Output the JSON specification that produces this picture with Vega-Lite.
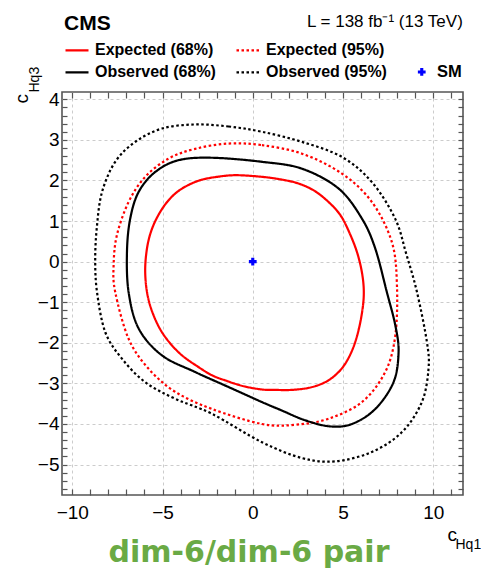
{
  "$schema": "https://vega.github.io/schema/vega-lite/v6.json",
  "width": 401,
  "height": 403,
  "autosize": {"type": "none"},
  "padding": {"left": 62, "top": 92, "right": 18, "bottom": 76},
  "config": {
    "view": {"stroke": "#555555", "strokeWidth": 1.6},
    "font": "Liberation Sans"
  },
  "title": {
    "text": "dim-6/dim-6 pair",
    "orient": "bottom",
    "anchor": "middle",
    "frame": "group",
    "offset": -13,
    "dx": -13.5,
    "font": "DejaVu Sans",
    "fontSize": 30,
    "fontWeight": "bold",
    "color": "#6aaa45"
  },
  "datasets": {
    "contours": [
      {"series": "Expected (68%)", "i": 1, "x": -0.85, "y": 2.13},
      {"series": "Expected (68%)", "i": 2, "x": 0.51, "y": 2.09},
      {"series": "Expected (68%)", "i": 3, "x": 1.5, "y": 2.03},
      {"series": "Expected (68%)", "i": 4, "x": 2.5, "y": 1.93},
      {"series": "Expected (68%)", "i": 5, "x": 3.4, "y": 1.75},
      {"series": "Expected (68%)", "i": 6, "x": 4.2, "y": 1.47},
      {"series": "Expected (68%)", "i": 7, "x": 4.85, "y": 1.15},
      {"series": "Expected (68%)", "i": 8, "x": 5.35, "y": 0.72},
      {"series": "Expected (68%)", "i": 9, "x": 5.8, "y": 0.2},
      {"series": "Expected (68%)", "i": 10, "x": 6.08, "y": -0.35},
      {"series": "Expected (68%)", "i": 11, "x": 6.15, "y": -0.85},
      {"series": "Expected (68%)", "i": 12, "x": 6.0, "y": -1.4},
      {"series": "Expected (68%)", "i": 13, "x": 5.7, "y": -1.95},
      {"series": "Expected (68%)", "i": 14, "x": 5.3, "y": -2.38},
      {"series": "Expected (68%)", "i": 15, "x": 4.8, "y": -2.7},
      {"series": "Expected (68%)", "i": 16, "x": 4.1, "y": -2.95},
      {"series": "Expected (68%)", "i": 17, "x": 3.2, "y": -3.1},
      {"series": "Expected (68%)", "i": 18, "x": 2.17, "y": -3.16},
      {"series": "Expected (68%)", "i": 19, "x": 1.2, "y": -3.16},
      {"series": "Expected (68%)", "i": 20, "x": 0.51, "y": -3.15},
      {"series": "Expected (68%)", "i": 21, "x": -0.5, "y": -3.07},
      {"series": "Expected (68%)", "i": 22, "x": -1.5, "y": -2.93},
      {"series": "Expected (68%)", "i": 23, "x": -2.26, "y": -2.8},
      {"series": "Expected (68%)", "i": 24, "x": -3.1, "y": -2.57},
      {"series": "Expected (68%)", "i": 25, "x": -3.92, "y": -2.31},
      {"series": "Expected (68%)", "i": 26, "x": -4.6, "y": -2.0},
      {"series": "Expected (68%)", "i": 27, "x": -5.15, "y": -1.65},
      {"series": "Expected (68%)", "i": 28, "x": -5.6, "y": -1.2},
      {"series": "Expected (68%)", "i": 29, "x": -5.86, "y": -0.75},
      {"series": "Expected (68%)", "i": 30, "x": -5.96, "y": -0.26},
      {"series": "Expected (68%)", "i": 31, "x": -5.9, "y": 0.2},
      {"series": "Expected (68%)", "i": 32, "x": -5.72, "y": 0.62},
      {"series": "Expected (68%)", "i": 33, "x": -5.4, "y": 1.0},
      {"series": "Expected (68%)", "i": 34, "x": -4.9, "y": 1.38},
      {"series": "Expected (68%)", "i": 35, "x": -4.29, "y": 1.68},
      {"series": "Expected (68%)", "i": 36, "x": -3.6, "y": 1.88},
      {"series": "Expected (68%)", "i": 37, "x": -2.81, "y": 2.02},
      {"series": "Expected (68%)", "i": 38, "x": -1.8, "y": 2.1},

      {"series": "Expected (95%)", "i": 1, "x": -1.34, "y": 2.91},
      {"series": "Expected (95%)", "i": 2, "x": 0.51, "y": 2.87},
      {"series": "Expected (95%)", "i": 3, "x": 2.73, "y": 2.66},
      {"series": "Expected (95%)", "i": 4, "x": 4.94, "y": 2.17},
      {"series": "Expected (95%)", "i": 5, "x": 6.6, "y": 1.47},
      {"series": "Expected (95%)", "i": 6, "x": 7.71, "y": 0.48},
      {"series": "Expected (95%)", "i": 7, "x": 7.99, "y": -0.58},
      {"series": "Expected (95%)", "i": 8, "x": 7.9, "y": -1.82},
      {"series": "Expected (95%)", "i": 9, "x": 7.34, "y": -2.72},
      {"series": "Expected (95%)", "i": 10, "x": 6.05, "y": -3.46},
      {"series": "Expected (95%)", "i": 11, "x": 4.2, "y": -3.87},
      {"series": "Expected (95%)", "i": 12, "x": 2.35, "y": -4.02},
      {"series": "Expected (95%)", "i": 13, "x": 0.51, "y": -4.0},
      {"series": "Expected (95%)", "i": 14, "x": -2.26, "y": -3.63},
      {"series": "Expected (95%)", "i": 15, "x": -4.29, "y": -3.21},
      {"series": "Expected (95%)", "i": 16, "x": -5.77, "y": -2.64},
      {"series": "Expected (95%)", "i": 17, "x": -6.88, "y": -1.9},
      {"series": "Expected (95%)", "i": 18, "x": -7.62, "y": -0.75},
      {"series": "Expected (95%)", "i": 19, "x": -7.71, "y": -0.09},
      {"series": "Expected (95%)", "i": 20, "x": -7.53, "y": 0.65},
      {"series": "Expected (95%)", "i": 21, "x": -6.88, "y": 1.47},
      {"series": "Expected (95%)", "i": 22, "x": -5.96, "y": 2.09},
      {"series": "Expected (95%)", "i": 23, "x": -4.66, "y": 2.54},
      {"series": "Expected (95%)", "i": 24, "x": -3.19, "y": 2.78},

      {"series": "Observed (68%)", "i": 1, "x": -2.26, "y": 2.56},
      {"series": "Observed (68%)", "i": 2, "x": 0.51, "y": 2.46},
      {"series": "Observed (68%)", "i": 3, "x": 2.73, "y": 2.29},
      {"series": "Observed (68%)", "i": 4, "x": 4.76, "y": 1.8},
      {"series": "Observed (68%)", "i": 5, "x": 6.05, "y": 1.06},
      {"series": "Observed (68%)", "i": 6, "x": 6.79, "y": 0.32},
      {"series": "Observed (68%)", "i": 7, "x": 7.43, "y": -0.75},
      {"series": "Observed (68%)", "i": 8, "x": 7.9, "y": -1.57},
      {"series": "Observed (68%)", "i": 9, "x": 8.08, "y": -2.23},
      {"series": "Observed (68%)", "i": 10, "x": 7.8, "y": -2.97},
      {"series": "Observed (68%)", "i": 11, "x": 6.79, "y": -3.63},
      {"series": "Observed (68%)", "i": 12, "x": 5.5, "y": -4.0},
      {"series": "Observed (68%)", "i": 13, "x": 4.29, "y": -4.06},
      {"series": "Observed (68%)", "i": 14, "x": 2.91, "y": -3.91},
      {"series": "Observed (68%)", "i": 15, "x": 1.62, "y": -3.67},
      {"series": "Observed (68%)", "i": 16, "x": 0.51, "y": -3.46},
      {"series": "Observed (68%)", "i": 17, "x": -1.34, "y": -3.09},
      {"series": "Observed (68%)", "i": 18, "x": -3.19, "y": -2.72},
      {"series": "Observed (68%)", "i": 19, "x": -5.03, "y": -2.31},
      {"series": "Observed (68%)", "i": 20, "x": -6.32, "y": -1.65},
      {"series": "Observed (68%)", "i": 21, "x": -6.88, "y": -0.75},
      {"series": "Observed (68%)", "i": 22, "x": -6.97, "y": 0.24},
      {"series": "Observed (68%)", "i": 23, "x": -6.79, "y": 1.06},
      {"series": "Observed (68%)", "i": 24, "x": -6.32, "y": 1.72},
      {"series": "Observed (68%)", "i": 25, "x": -5.4, "y": 2.21},
      {"series": "Observed (68%)", "i": 26, "x": -4.11, "y": 2.5},

      {"series": "Observed (95%)", "i": 1, "x": -3.19, "y": 3.38},
      {"series": "Observed (95%)", "i": 2, "x": -1.34, "y": 3.33},
      {"series": "Observed (95%)", "i": 3, "x": 0.51, "y": 3.2},
      {"series": "Observed (95%)", "i": 4, "x": 2.73, "y": 2.95},
      {"series": "Observed (95%)", "i": 5, "x": 4.94, "y": 2.58},
      {"series": "Observed (95%)", "i": 6, "x": 6.6, "y": 1.96},
      {"series": "Observed (95%)", "i": 7, "x": 7.89, "y": 1.06},
      {"series": "Observed (95%)", "i": 8, "x": 8.5, "y": 0.2},
      {"series": "Observed (95%)", "i": 9, "x": 9.1, "y": -0.75},
      {"series": "Observed (95%)", "i": 10, "x": 9.65, "y": -1.98},
      {"series": "Observed (95%)", "i": 11, "x": 9.74, "y": -2.64},
      {"series": "Observed (95%)", "i": 12, "x": 9.37, "y": -3.46},
      {"series": "Observed (95%)", "i": 13, "x": 8.27, "y": -4.2},
      {"series": "Observed (95%)", "i": 14, "x": 6.6, "y": -4.69},
      {"series": "Observed (95%)", "i": 15, "x": 4.57, "y": -4.92},
      {"series": "Observed (95%)", "i": 16, "x": 2.73, "y": -4.84},
      {"series": "Observed (95%)", "i": 17, "x": 0.51, "y": -4.45},
      {"series": "Observed (95%)", "i": 18, "x": -2.26, "y": -3.75},
      {"series": "Observed (95%)", "i": 19, "x": -4.29, "y": -3.38},
      {"series": "Observed (95%)", "i": 20, "x": -5.96, "y": -2.97},
      {"series": "Observed (95%)", "i": 21, "x": -7.25, "y": -2.39},
      {"series": "Observed (95%)", "i": 22, "x": -8.17, "y": -1.74},
      {"series": "Observed (95%)", "i": 23, "x": -8.63, "y": -0.75},
      {"series": "Observed (95%)", "i": 24, "x": -8.73, "y": 0.07},
      {"series": "Observed (95%)", "i": 25, "x": -8.63, "y": 0.89},
      {"series": "Observed (95%)", "i": 26, "x": -8.35, "y": 1.72},
      {"series": "Observed (95%)", "i": 27, "x": -7.62, "y": 2.46},
      {"series": "Observed (95%)", "i": 28, "x": -6.51, "y": 2.95},
      {"series": "Observed (95%)", "i": 29, "x": -5.03, "y": 3.28}
    ],
    "sm": [
      {"label": "SM", "x": 0, "y": 0}
    ]
  },
  "resolve": {"axis": {"x": "independent", "y": "independent"}},
  "layer": [
    {
      "data": {"name": "contours"},
      "mark": {"type": "line", "interpolate": "cardinal-closed", "strokeWidth": 2.2},
      "encoding": {
        "x": {
          "field": "x", "type": "quantitative",
          "scale": {"domain": [-10.57, 11.65], "nice": false, "zero": false},
          "axis": {
            "orient": "bottom",
            "values": [-10,-9,-8,-7,-6,-5,-4,-3,-2,-1,0,1,2,3,4,5,6,7,8,9,10,11],
            "format": ".0f",
            "labelExpr": "datum.value % 5 === 0 ? datum.label : ''",
            "labelFont": "Liberation Sans", "labelFontSize": 19, "labelColor": "#000000",
            "labelPadding": 14, "labelOverlap": false, "labelFlush": false, "labelBound": false,
            "ticks": true, "tickSize": -6, "tickColor": "#555555", "tickWidth": 1.2,
            "grid": true, "gridColor": "#cccccc", "gridDash": [3, 3], "gridWidth": 1,
            "gridOpacity": {"condition": {"test": "datum.value % 5 === 0", "value": 1}, "value": 0},
            "domain": false,
            "title": "c", "titleFont": "Liberation Sans", "titleFontSize": 19, "titleFontWeight": "normal",
            "titleColor": "#000000", "titleX": 385, "titleY": 45, "titleAlign": "left", "titleBaseline": "alphabetic",
            "encode": {
              "ticks": {"y2": {"condition": {"test": "datum.value % 5 === 0", "value": -12}, "value": -6}}
            }
          }
        },
        "y": {
          "field": "y", "type": "quantitative",
          "scale": {"domain": [-5.75, 4.18], "nice": false, "zero": false},
          "axis": {
            "orient": "left",
            "values": [-5.6,-5.4,-5.2,-5,-4.8,-4.6,-4.4,-4.2,-4,-3.8,-3.6,-3.4,-3.2,-3,-2.8,-2.6,-2.4,-2.2,-2,-1.8,-1.6,-1.4,-1.2,-1,-0.8,-0.6,-0.4,-0.2,0,0.2,0.4,0.6,0.8,1,1.2,1.4,1.6,1.8,2,2.2,2.4,2.6,2.8,3,3.2,3.4,3.6,3.8,4],
            "format": ".0f",
            "labelExpr": "abs(datum.value - round(datum.value)) < 0.01 ? datum.label : ''",
            "labelFont": "Liberation Sans", "labelFontSize": 19, "labelColor": "#000000",
            "labelPadding": 8, "labelOverlap": false, "labelFlush": false, "labelBound": false,
            "ticks": true, "tickSize": -5, "tickColor": "#555555", "tickWidth": 1.2,
            "grid": true, "gridColor": "#cccccc", "gridDash": [3, 3], "gridWidth": 1,
            "gridOpacity": {"condition": {"test": "abs(datum.value - round(datum.value)) < 0.01", "value": 1}, "value": 0},
            "domain": false,
            "title": "c", "titleFont": "Liberation Sans", "titleFontSize": 19, "titleFontWeight": "normal",
            "titleColor": "#000000", "titleAngle": -90, "titleX": -35, "titleY": 11, "titleAlign": "left", "titleBaseline": "alphabetic",
            "encode": {
              "ticks": {"x2": {"condition": {"test": "abs(datum.value - round(datum.value)) < 0.01", "value": 10}, "value": 5}}
            }
          }
        },
        "order": {"field": "i", "type": "quantitative"},
        "color": {
          "field": "series", "type": "nominal",
          "scale": {"domain": ["Expected (68%)", "Observed (68%)", "Expected (95%)", "Observed (95%)"], "range": ["#ff0000", "#000000", "#ff0000", "#000000"]},
          "legend": {
            "title": "CMS", "orient": "none", "legendX": 2, "legendY": -78.6, "columns": 2, "padding": 0,
            "titleFont": "Liberation Sans", "titleFontSize": 21, "titleFontWeight": "bold", "titleColor": "#000000", "titlePadding": 3,
            "labelFont": "Liberation Sans", "labelFontSize": 16, "labelFontWeight": "bold", "labelColor": "#000000", "labelOffset": 5, "labelLimit": 300,
            "symbolType": "stroke", "symbolSize": 529, "symbolStrokeWidth": 2.2,
            "columnPadding": 16, "rowPadding": 1
          }
        },
        "strokeDash": {
          "field": "series", "type": "nominal",
          "scale": {"domain": ["Expected (68%)", "Observed (68%)", "Expected (95%)", "Observed (95%)"], "range": [[1, 0], [1, 0], [2.5, 2.5], [2.5, 2.5]]},
          "legend": {
            "title": "CMS", "orient": "none", "legendX": 2, "legendY": -78.6, "columns": 2, "padding": 0,
            "titleFont": "Liberation Sans", "titleFontSize": 21, "titleFontWeight": "bold", "titleColor": "#000000", "titlePadding": 3,
            "labelFont": "Liberation Sans", "labelFontSize": 16, "labelFontWeight": "bold", "labelColor": "#000000", "labelOffset": 5, "labelLimit": 300,
            "symbolType": "stroke", "symbolSize": 529, "symbolStrokeWidth": 2.2,
            "columnPadding": 16, "rowPadding": 1
          }
        }
      }
    },
    {
      "data": {"name": "sm"},
      "mark": {"type": "point", "filled": true, "color": "#0000ff", "size": 60, "opacity": 1},
      "encoding": {
        "x": {
          "field": "x", "type": "quantitative",
          "scale": {"domain": [-10.57, 11.65], "nice": false, "zero": false},
          "axis": {
            "orient": "top",
            "values": [-10,-9,-8,-7,-6,-5,-4,-3,-2,-1,0,1,2,3,4,5,6,7,8,9,10,11],
            "labels": false, "grid": false, "domain": false,
            "ticks": true, "tickSize": -6, "tickColor": "#555555", "tickWidth": 1.2,
            "title": "Hq1", "titleFont": "Liberation Sans", "titleFontSize": 14, "titleFontWeight": "normal",
            "titleColor": "#000000", "titleX": 393, "titleY": 456, "titleAlign": "left", "titleBaseline": "alphabetic", "titleAngle": 0,
            "encode": {
              "ticks": {"y2": {"condition": {"test": "datum.value % 5 === 0", "value": 12}, "value": 6}}
            }
          }
        },
        "y": {
          "field": "y", "type": "quantitative",
          "scale": {"domain": [-5.75, 4.18], "nice": false, "zero": false},
          "axis": {
            "orient": "right",
            "values": [-5.6,-5.4,-5.2,-5,-4.8,-4.6,-4.4,-4.2,-4,-3.8,-3.6,-3.4,-3.2,-3,-2.8,-2.6,-2.4,-2.2,-2,-1.8,-1.6,-1.4,-1.2,-1,-0.8,-0.6,-0.4,-0.2,0,0.2,0.4,0.6,0.8,1,1.2,1.4,1.6,1.8,2,2.2,2.4,2.6,2.8,3,3.2,3.4,3.6,3.8,4],
            "labels": false, "grid": false, "domain": false,
            "ticks": true, "tickSize": -5, "tickColor": "#555555", "tickWidth": 1.2,
            "title": "Hq3", "titleFont": "Liberation Sans", "titleFontSize": 14, "titleFontWeight": "normal",
            "titleColor": "#000000", "titleAngle": -90, "titleX": -425, "titleY": 0, "titleAlign": "left", "titleBaseline": "alphabetic",
            "encode": {
              "ticks": {"x2": {"condition": {"test": "abs(datum.value - round(datum.value)) < 0.01", "value": -10}, "value": -5}}
            }
          }
        },
        "shape": {
          "field": "label", "type": "nominal",
          "scale": {"domain": ["SM"], "range": ["cross"]},
          "legend": {
            "title": "L = 138 fb⁻¹ (13 TeV)", "orient": "none", "legendX": 245, "legendY": -78.3, "padding": 0,
            "titleFont": "Liberation Sans", "titleFontSize": 17, "titleFontWeight": "normal", "titleColor": "#000000",
            "titleAnchor": "start", "titlePadding": 33, "titleLimit": 400,
            "labelFont": "Liberation Sans", "labelFontSize": 16.5, "labelFontWeight": "bold", "labelColor": "#000000",
            "symbolOffset": 106.5, "labelOffset": 7,
            "symbolSize": 60, "symbolFillColor": "#0000ff", "symbolStrokeColor": "#0000ff", "symbolStrokeWidth": 0, "symbolOpacity": 1
          }
        }
      }
    }
  ]
}
